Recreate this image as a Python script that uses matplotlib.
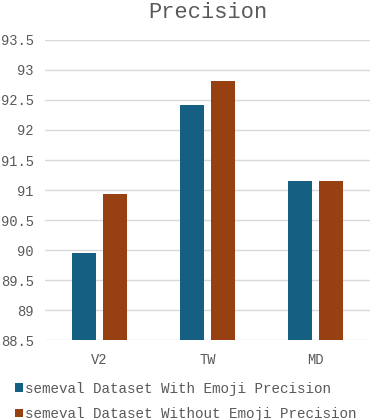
import matplotlib.pyplot as plt
import numpy as np

categories = ['V2', 'TW', 'MD']
with_emoji = [89.95, 92.42, 91.15]
without_emoji = [90.93, 92.82, 91.15]
series_names = ['semeval Dataset With Emoji Precision',
                'semeval Dataset Without Emoji Precision']
yticks = [88.5, 89, 89.5, 90, 90.5, 91, 91.5, 92, 92.5, 93, 93.5]

plt.rcParams['font.family'] = ['Liberation Mono', 'DejaVu Sans']

fig = plt.figure(figsize=(3.71, 4.2), dpi=100)
ax = fig.add_axes([0.121, 0.19, 0.876, 0.715])

x = np.arange(len(categories))
w = 0.222
off = 0.143
b1 = ax.bar(x - off, with_emoji, w, color='#156082', label=series_names[0], zorder=3)
b2 = ax.bar(x + off, without_emoji, w, color='#974011', label=series_names[1], zorder=3)

ax.set_xlim(-0.5, 2.5)
ax.set_ylim(88.5, 93.5)
ax.set_yticks(yticks)
ax.set_yticklabels([f'{v:g}' for v in yticks])
ax.set_xticks(x)
ax.set_xticklabels(categories)
ax.grid(axis='y', color='#d9d9d9', linewidth=1, zorder=0)
for s in ax.spines.values():
    s.set_visible(False)
ax.tick_params(length=0, labelsize=9.9, colors='#595959')
ax.tick_params(axis='y', pad=8)
ax.tick_params(axis='x', pad=9)

ax.set_title('Precision', fontsize=15.8, color='#595959', pad=16)

fig.legend(handles=[b1, b2], loc='lower left', bbox_to_anchor=(0.005, -0.033),
           frameon=False, fontsize=10.3, handlelength=0.55, handleheight=0.55,
           handletextpad=0.2, labelspacing=0.8, labelcolor='#595959')

fig.savefig('out.png', dpi=100)
